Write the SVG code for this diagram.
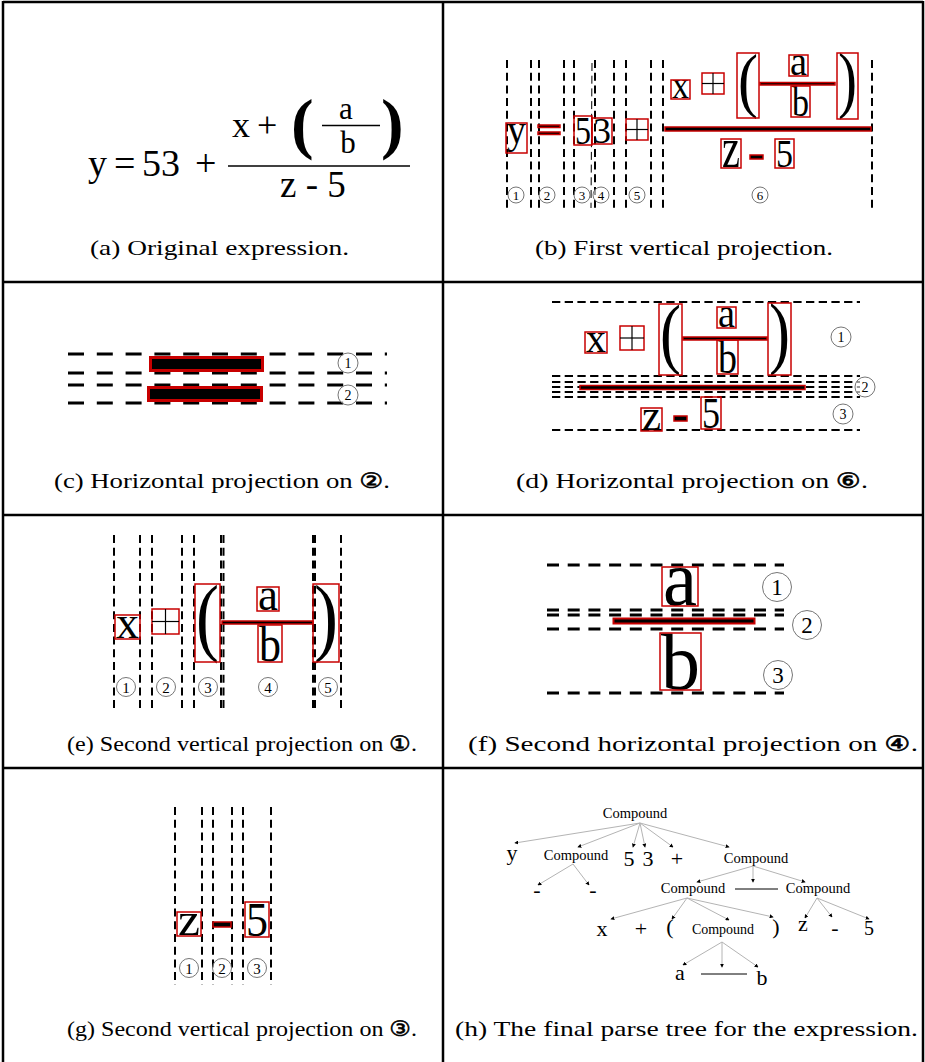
<svg xmlns="http://www.w3.org/2000/svg" width="925" height="1062" viewBox="0 0 925 1062">
<style>
.frame{stroke:#000;stroke-width:2.5;fill:none}
.cap{font-family:"Liberation Serif","DejaVu Serif",serif;font-size:21px}
.ci{font-family:"DejaVu Sans",sans-serif;stroke:#000;stroke-width:0.6}
.g{font-family:"Liberation Serif",serif;fill:#000}
.bx{fill:none;stroke:#c80000;stroke-width:1.5}
.bar{fill:#000;stroke:#c80000;stroke-width:1.5}
.cr{stroke:#000;stroke-width:1.2}
.dv{stroke:#000;stroke-width:2;stroke-dasharray:8 4.7;fill:none}
.dvt{stroke:#000;stroke-width:1;stroke-dasharray:8 4.7;fill:none}
.dc{stroke:#000;stroke-width:3;stroke-dasharray:16 12.8;fill:none}
.dd{stroke:#000;stroke-width:2;stroke-dasharray:8.3 4.4;fill:none}
.df{stroke:#000;stroke-width:3;stroke-dasharray:12 8.7;fill:none}
.circ{fill:#fff;fill-opacity:0.6;stroke:#666;stroke-width:0.9}
.cn{font-family:"Liberation Serif",serif;text-anchor:middle;fill:#000}
.tn{font-family:"Liberation Serif",serif;text-anchor:middle;fill:#000}
.edge{stroke:#b4b4b4;stroke-width:1;fill:none;marker-end:url(#dot)}
</style>
<defs>
<marker id="dot" viewBox="0 0 6 6" refX="5" refY="3" markerWidth="4" markerHeight="4" orient="auto" markerUnits="userSpaceOnUse">
<path d="M0,0 L6,3 L0,6 z" fill="#000"/>
</marker>
</defs>
<rect width="925" height="1062" fill="#fff"/>

<g id="frame" class="frame">
<line x1="3" y1="2" x2="923" y2="2"/>
<line x1="3" y1="1" x2="3" y2="1062"/>
<line x1="443" y1="1" x2="443" y2="1062"/>
<line x1="923" y1="1" x2="923" y2="1062"/>
<line x1="3" y1="282" x2="923" y2="282"/>
<line x1="3" y1="515" x2="923" y2="515"/>
<line x1="3" y1="768" x2="923" y2="768"/>
</g>

<g id="captions" class="cap">
<text x="90" y="255" textLength="259" lengthAdjust="spacingAndGlyphs">(a) Original expression.</text>
<text x="535" y="255" textLength="298" lengthAdjust="spacingAndGlyphs">(b) First vertical projection.</text>
<text x="54" y="488" textLength="336" lengthAdjust="spacingAndGlyphs">(c) Horizontal projection on <tspan class="ci">②</tspan>.</text>
<text x="516" y="488" textLength="352" lengthAdjust="spacingAndGlyphs">(d) Horizontal projection on <tspan class="ci">⑥</tspan>.</text>
<text x="67" y="751" textLength="350" lengthAdjust="spacingAndGlyphs">(e) Second vertical projection on <tspan class="ci">①</tspan>.</text>
<text x="468" y="751" textLength="450" lengthAdjust="spacingAndGlyphs">(f) Second horizontal projection on <tspan class="ci">④</tspan>.</text>
<text x="67" y="1036" textLength="350" lengthAdjust="spacingAndGlyphs">(g) Second vertical projection on <tspan class="ci">③</tspan>.</text>
<text x="455" y="1036" textLength="463" lengthAdjust="spacingAndGlyphs">(h) The final parse tree for the expression.</text>
</g>

<!-- (a) -->
<g id="panel-a" class="g">
<text x="88" y="176" font-size="38">y</text>
<text x="114" y="176" font-size="38">=</text>
<text x="142" y="176" font-size="38">53</text>
<text x="195" y="176" font-size="38">+</text>
<text x="232" y="137" font-size="36">x</text>
<text x="257" y="137" font-size="36">+</text>
<text x="291" y="146" font-size="68" font-weight="bold">(</text>
<text x="346" y="119" font-size="31" text-anchor="middle">a</text>
<line x1="322" y1="125.5" x2="380" y2="125.5" stroke="#000" stroke-width="1.3"/>
<text x="348" y="153" font-size="31" text-anchor="middle">b</text>
<text x="381" y="146" font-size="68" font-weight="bold">)</text>
<line x1="228" y1="166" x2="410" y2="166" stroke="#000" stroke-width="1.6"/>
<text x="280" y="197" font-size="37">z - 5</text>
</g>

<!-- (b) -->
<g id="panel-b">
<g id="b-dashes">
<line class="dv" x1="507" y1="60" x2="507" y2="208"/>
<line class="dv" x1="531" y1="60" x2="531" y2="208"/>
<line class="dv" x1="539" y1="60" x2="539" y2="208"/>
<line class="dv" x1="564" y1="60" x2="564" y2="208"/>
<line class="dv" x1="574" y1="60" x2="574" y2="208"/>
<line class="dvt" x1="592" y1="63" x2="591" y2="208"/>
<line class="dv" x1="595" y1="60" x2="595" y2="208"/>
<line class="dv" x1="614" y1="60" x2="614" y2="208"/>
<line class="dv" x1="626" y1="60" x2="626" y2="208"/>
<line class="dv" x1="651" y1="60" x2="651" y2="208"/>
<line class="dv" x1="663" y1="60" x2="663" y2="208"/>
<line class="dv" x1="872" y1="60" x2="872" y2="208"/>
</g>
<g class="g">
<text x="507" y="143" font-size="41" textLength="19" lengthAdjust="spacingAndGlyphs">y</text>
<text x="575" y="144" font-size="40" textLength="16" lengthAdjust="spacingAndGlyphs">5</text>
<text x="593" y="143" font-size="35.5" textLength="18" lengthAdjust="spacingAndGlyphs">3</text>
<text x="672" y="98" font-size="37" textLength="17" lengthAdjust="spacingAndGlyphs">x</text>
<text x="738" y="104" font-size="72" textLength="20" lengthAdjust="spacingAndGlyphs">(</text>
<text x="790" y="75" font-size="40" textLength="17" lengthAdjust="spacingAndGlyphs">a</text>
<text x="792" y="116" font-size="42" textLength="17" lengthAdjust="spacingAndGlyphs">b</text>
<text x="838" y="104" font-size="73" textLength="19" lengthAdjust="spacingAndGlyphs">)</text>
<text x="722" y="167" font-size="58" textLength="18" lengthAdjust="spacingAndGlyphs">z</text>
<text x="776" y="167" font-size="40" textLength="17" lengthAdjust="spacingAndGlyphs">5</text>
</g>
<g id="b-boxes">
<rect class="bx" x="506" y="123" width="21" height="30"/>
<rect class="bar" x="538" y="125" width="22" height="2.5"/>
<rect class="bar" x="538" y="132" width="22" height="2.5"/>
<rect class="bx" x="574" y="116" width="18" height="29"/>
<rect class="bx" x="592" y="118" width="20" height="26"/>
<rect class="bx" x="626" y="119" width="22" height="21"/>
<line class="cr" x1="637" y1="119" x2="637" y2="140"/><line class="cr" x1="626" y1="129.5" x2="648" y2="129.5"/>
<rect class="bar" x="665" y="127" width="206" height="4"/>
<rect class="bx" x="671" y="80" width="19" height="19"/>
<rect class="bx" x="702" y="73" width="22" height="21"/>
<line class="cr" x1="713" y1="73" x2="713" y2="94"/><line class="cr" x1="702" y1="83.5" x2="724" y2="83.5"/>
<rect class="bx" x="737" y="53" width="22" height="65"/>
<rect class="bx" x="789" y="55" width="19" height="21"/>
<rect class="bar" x="760" y="82.5" width="75" height="2.5"/>
<rect class="bx" x="791" y="86" width="19" height="31"/>
<rect class="bx" x="837" y="53" width="21" height="66"/>
<rect class="bx" x="721" y="139" width="20" height="29"/>
<rect class="bar" x="750" y="155" width="13" height="4"/>
<rect class="bx" x="775" y="139" width="19" height="29"/>
</g>
<g id="b-labels">
<circle class="circ" cx="516" cy="195" r="8"/><text class="cn" x="516" y="200" font-size="13">1</text>
<circle class="circ" cx="547" cy="195" r="8"/><text class="cn" x="547" y="200" font-size="13">2</text>
<circle class="circ" cx="582" cy="195" r="8"/><text class="cn" x="582" y="200" font-size="13">3</text>
<circle class="circ" cx="601" cy="195" r="8"/><text class="cn" x="601" y="200" font-size="13">4</text>
<circle class="circ" cx="637" cy="195" r="8"/><text class="cn" x="637" y="200" font-size="13">5</text>
<circle class="circ" cx="760" cy="195" r="8"/><text class="cn" x="760" y="200" font-size="13">6</text>
</g>
</g>

<!-- (c) -->
<g id="panel-c">
<line class="dc" x1="68" y1="354" x2="387" y2="354"/>
<line class="dc" x1="68" y1="373" x2="387" y2="373"/>
<line class="dc" x1="68" y1="385" x2="387" y2="385"/>
<line class="dc" x1="68" y1="403" x2="387" y2="403"/>
<rect x="150.5" y="357.5" width="112" height="13" fill="#000" stroke="#c80000" stroke-width="3"/>
<rect x="148.5" y="387.5" width="113" height="13" fill="#000" stroke="#c80000" stroke-width="3"/>
<circle class="circ" cx="348" cy="363" r="10"/><text class="cn" x="348" y="368" font-size="14">1</text>
<circle class="circ" cx="348" cy="395" r="10"/><text class="cn" x="348" y="400" font-size="14">2</text>
</g>

<!-- (d) -->
<g id="panel-d">
<line class="dd" x1="552" y1="302" x2="860" y2="302"/>
<line class="dd" x1="552" y1="376" x2="860" y2="376"/>
<line class="dd" x1="552" y1="382" x2="860" y2="382"/>
<line class="dd" x1="552" y1="387" x2="860" y2="387"/>
<line class="dd" x1="552" y1="392" x2="860" y2="392"/>
<line class="dd" x1="552" y1="397" x2="860" y2="397"/>
<line class="dd" x1="552" y1="430" x2="860" y2="430"/>
<g class="g">
<text x="586" y="352" font-size="41" textLength="20" lengthAdjust="spacingAndGlyphs">x</text>
<text x="660" y="359" font-size="79" textLength="21" lengthAdjust="spacingAndGlyphs">(</text>
<text x="718" y="327" font-size="40" textLength="17" lengthAdjust="spacingAndGlyphs">a</text>
<text x="718" y="373" font-size="46" textLength="19" lengthAdjust="spacingAndGlyphs">b</text>
<text x="769" y="359" font-size="80" textLength="21" lengthAdjust="spacingAndGlyphs">)</text>
<text x="642" y="430" font-size="45" textLength="19" lengthAdjust="spacingAndGlyphs">z</text>
<text x="702" y="428" font-size="44" textLength="18" lengthAdjust="spacingAndGlyphs">5</text>
</g>
<rect class="bx" x="585" y="332" width="22" height="21"/>
<rect class="bx" x="620" y="326" width="24" height="24"/>
<line class="cr" x1="632" y1="326" x2="632" y2="350"/><line class="cr" x1="620" y1="338" x2="644" y2="338"/>
<rect class="bx" x="659" y="304" width="23" height="71"/>
<rect class="bx" x="717" y="307" width="19" height="21"/>
<rect class="bar" x="683" y="337" width="84" height="3"/>
<rect class="bx" x="717" y="340" width="21" height="34"/>
<rect class="bx" x="768" y="303" width="23" height="72"/>
<rect class="bar" x="580" y="385.5" width="225" height="4"/>
<rect class="bx" x="641" y="408" width="21" height="23"/>
<rect class="bar" x="674" y="416" width="13" height="5"/>
<rect class="bx" x="701" y="397" width="20" height="32"/>
<circle class="circ" cx="841" cy="337" r="10"/><text class="cn" x="841" y="342" font-size="14">1</text>
<circle class="circ" cx="865" cy="387" r="10"/><text class="cn" x="865" y="392" font-size="14">2</text>
<circle class="circ" cx="843" cy="414" r="10"/><text class="cn" x="843" y="419" font-size="14">3</text>
</g>

<!-- (e) -->
<g id="panel-e">
<line class="dv" x1="114" y1="535" x2="114" y2="708"/>
<line class="dv" x1="140" y1="535" x2="140" y2="708"/>
<line class="dv" x1="152" y1="535" x2="152" y2="708"/>
<line class="dv" x1="182" y1="535" x2="182" y2="708"/>
<line class="dv" x1="194" y1="535" x2="194" y2="708"/>
<line class="dv" x1="221" y1="535" x2="221" y2="708"/>
<line class="dv" x1="223.5" y1="535" x2="223.5" y2="708"/>
<line class="dv" x1="313" y1="535" x2="313" y2="708"/>
<line class="dv" x1="315" y1="535" x2="315" y2="708"/>
<line class="dv" x1="341" y1="535" x2="341" y2="708"/>
<g class="g">
<text x="116" y="638" font-size="47" textLength="23" lengthAdjust="spacingAndGlyphs">x</text>
<text x="196" y="645" font-size="87" textLength="23" lengthAdjust="spacingAndGlyphs">(</text>
<text x="258" y="610" font-size="47" textLength="20" lengthAdjust="spacingAndGlyphs">a</text>
<text x="259" y="661" font-size="51" textLength="22" lengthAdjust="spacingAndGlyphs">b</text>
<text x="314" y="645" font-size="87" textLength="24" lengthAdjust="spacingAndGlyphs">)</text>
</g>
<rect class="bx" x="115" y="615" width="25" height="24"/>
<rect class="bx" x="152" y="609" width="27" height="25"/>
<line class="cr" x1="165.5" y1="609" x2="165.5" y2="634"/><line class="cr" x1="152" y1="621.5" x2="179" y2="621.5"/>
<rect class="bx" x="195" y="584" width="25" height="78"/>
<rect class="bx" x="257" y="587" width="22" height="24"/>
<rect class="bar" x="222" y="621" width="91" height="3"/>
<rect class="bx" x="258" y="625" width="24" height="37"/>
<rect class="bx" x="313" y="584" width="26" height="78"/>
<circle class="circ" cx="126" cy="687" r="9.5"/><text class="cn" x="126" y="692.5" font-size="15">1</text>
<circle class="circ" cx="166" cy="687" r="9.5"/><text class="cn" x="166" y="692.5" font-size="15">2</text>
<circle class="circ" cx="208" cy="687" r="9.5"/><text class="cn" x="208" y="692.5" font-size="15">3</text>
<circle class="circ" cx="268" cy="687" r="9.5"/><text class="cn" x="268" y="692.5" font-size="15">4</text>
<circle class="circ" cx="328" cy="687" r="9.5"/><text class="cn" x="328" y="692.5" font-size="15">5</text>
</g>

<!-- (f) -->
<g id="panel-f">
<line class="df" x1="547" y1="565" x2="784" y2="565"/>
<line class="df" x1="547" y1="610" x2="784" y2="610" stroke-width="2.5"/>
<line class="df" x1="547" y1="615" x2="784" y2="615" stroke-width="2.5"/>
<line class="df" x1="547" y1="629" x2="784" y2="629" stroke-width="5"/>
<line class="df" x1="547" y1="693" x2="784" y2="693"/>
<g class="g">
<text x="663" y="605" font-size="79" textLength="34" lengthAdjust="spacingAndGlyphs">a</text>
<text x="661" y="689" font-size="80" textLength="39" lengthAdjust="spacingAndGlyphs">b</text>
</g>
<rect class="bx" x="662" y="567" width="36" height="39"/>
<rect x="613.5" y="618.5" width="141" height="5" fill="#000" stroke="#c80000" stroke-width="2"/>
<rect class="bx" x="660" y="633" width="41" height="57"/>
<circle class="circ" cx="777" cy="587" r="14.5"/><text class="cn" x="777" y="595" font-size="23">1</text>
<circle class="circ" cx="807" cy="625" r="14.5"/><text class="cn" x="807" y="633" font-size="23">2</text>
<circle class="circ" cx="778" cy="675" r="14.5"/><text class="cn" x="778" y="683" font-size="23">3</text>
</g>

<!-- (g) -->
<g id="panel-g">
<line class="dv" x1="175" y1="807" x2="175" y2="985"/>
<line class="dv" x1="202" y1="807" x2="202" y2="985"/>
<line class="dv" x1="213" y1="807" x2="213" y2="985"/>
<line class="dv" x1="232" y1="807" x2="232" y2="985"/>
<line class="dv" x1="243" y1="807" x2="243" y2="985"/>
<line class="dv" x1="271" y1="807" x2="271" y2="985"/>
<g class="g">
<text x="178" y="935" font-size="47" textLength="22" lengthAdjust="spacingAndGlyphs">z</text>
<text x="246" y="936" font-size="49" textLength="22" lengthAdjust="spacingAndGlyphs">5</text>
</g>
<rect class="bx" x="177" y="912" width="24" height="24"/>
<rect class="bar" x="213" y="922" width="18" height="5"/>
<rect class="bx" x="245" y="902" width="24" height="35"/>
<circle class="circ" cx="189" cy="968" r="9.5"/><text class="cn" x="189" y="973.5" font-size="15">1</text>
<circle class="circ" cx="222" cy="968" r="9.5"/><text class="cn" x="222" y="973.5" font-size="15">2</text>
<circle class="circ" cx="257" cy="968" r="9.5"/><text class="cn" x="257" y="973.5" font-size="15">3</text>
</g>

<!-- (h) parse tree -->
<g id="panel-h">
<g id="connectors">
<line class="edge" x1="640" y1="823" x2="515" y2="843"/>
<line class="edge" x1="640" y1="823" x2="578" y2="847"/>
<line class="edge" x1="640" y1="823" x2="633" y2="847"/>
<line class="edge" x1="640" y1="823" x2="645" y2="847"/>
<line class="edge" x1="640" y1="823" x2="673" y2="847"/>
<line class="edge" x1="640" y1="823" x2="729" y2="847"/>
<line class="edge" x1="573" y1="864" x2="538" y2="885"/>
<line class="edge" x1="573" y1="864" x2="589" y2="885"/>
<line class="edge" x1="753" y1="866" x2="697" y2="882"/>
<line class="edge" x1="753" y1="866" x2="753" y2="882"/>
<line class="edge" x1="753" y1="866" x2="805" y2="882"/>
<line class="edge" x1="687" y1="898" x2="611" y2="919"/>
<line class="edge" x1="687" y1="898" x2="672" y2="919"/>
<line class="edge" x1="687" y1="898" x2="729" y2="920"/>
<line class="edge" x1="687" y1="898" x2="773" y2="917"/>
<line class="edge" x1="817" y1="898" x2="805" y2="918"/>
<line class="edge" x1="817" y1="898" x2="832" y2="917"/>
<line class="edge" x1="817" y1="898" x2="869" y2="919"/>
<line class="edge" x1="722" y1="942" x2="683" y2="965"/>
<line class="edge" x1="722" y1="942" x2="722" y2="967"/>
<line class="edge" x1="722" y1="942" x2="758" y2="967"/>
</g>
<g id="n-root"><text class="tn" x="635" y="818" font-size="14.5">Compound</text></g>
<g id="n-y"><text class="tn" x="512" y="860" font-size="22">y</text></g>
<g id="n-c2"><text class="tn" x="576" y="860" font-size="14.5">Compound</text></g>
<g id="n-5"><text class="tn" x="629" y="866" font-size="22">5</text></g>
<g id="n-3"><text class="tn" x="648" y="866" font-size="22">3</text></g>
<g id="n-plus"><text class="tn" x="677" y="866" font-size="22">+</text></g>
<g id="n-c6"><text class="tn" x="756" y="863" font-size="14.5">Compound</text></g>
<g id="n-dash1"><text class="tn" x="537" y="897" font-size="22">-</text></g>
<g id="n-dash2"><text class="tn" x="593" y="897" font-size="22">-</text></g>
<g id="n-cl"><text class="tn" x="693" y="893" font-size="14.5">Compound</text></g>
<g id="n-line1"><line x1="735" y1="889" x2="778" y2="889" stroke="#000" stroke-width="1"/></g>
<g id="n-cr"><text class="tn" x="818" y="893" font-size="14.5">Compound</text></g>
<g id="n-x"><text class="tn" x="602" y="936" font-size="22">x</text></g>
<g id="n-plus2"><text class="tn" x="641" y="936" font-size="22">+</text></g>
<g id="n-lp"><text class="tn" x="670" y="934" font-size="22">(</text></g>
<g id="n-ci"><text class="tn" x="723" y="934" font-size="14">Compound</text></g>
<g id="n-rp"><text class="tn" x="776" y="934" font-size="22">)</text></g>
<g id="n-z"><text class="tn" x="803" y="931" font-size="22">z</text></g>
<g id="n-minus"><text class="tn" x="835" y="935" font-size="22">-</text></g>
<g id="n-5b"><text class="tn" x="869" y="935" font-size="20">5</text></g>
<g id="n-a"><text class="tn" x="680" y="980" font-size="22">a</text></g>
<g id="n-line2"><line x1="701" y1="974" x2="747" y2="974" stroke="#000" stroke-width="1"/></g>
<g id="n-b"><text class="tn" x="762" y="985" font-size="22">b</text></g>
</g>
</svg>
